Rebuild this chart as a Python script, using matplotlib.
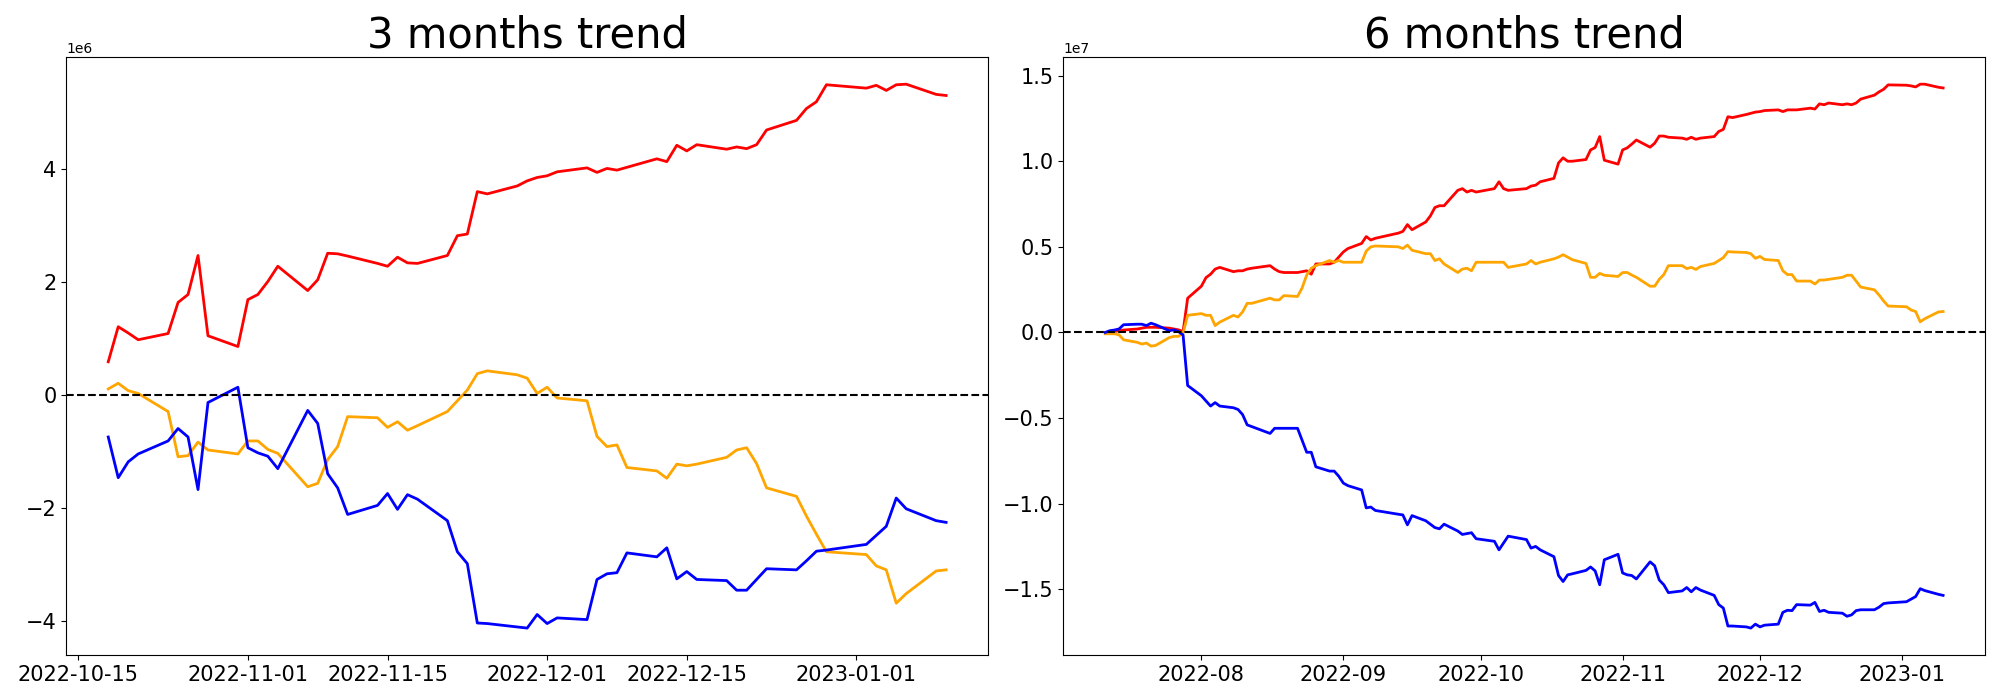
import matplotlib
matplotlib.use('Agg')
import matplotlib.pyplot as plt
import numpy as np
import pandas as pd

# market closing days inside the plotted range
holidays = ['2022-08-15', '2022-09-09', '2022-09-12', '2022-10-03', '2022-10-10', '2022-12-30']

dates_3m = pd.bdate_range('2022-10-18', '2023-01-10', freq='C', holidays=holidays)
dates_6m = pd.bdate_range('2022-07-11', '2023-01-10', freq='C', holidays=holidays)

# 3 months, values in 1e6
red_3m = [0.59, 1.21, 1.10, 0.98,
          1.09, 1.64, 1.78, 2.47, 1.05,
          0.86, 1.69, 1.78, 2.01, 2.28,
          1.85, 2.04, 2.51, 2.50, 2.46,
          2.33, 2.28, 2.44, 2.34, 2.33,
          2.47, 2.82, 2.85, 3.60, 3.56,
          3.70, 3.79, 3.85, 3.88, 3.95,
          4.02, 3.94, 4.01, 3.98, 4.03,
          4.18, 4.13, 4.42, 4.32, 4.43,
          4.35, 4.39, 4.36, 4.43, 4.69,
          4.86, 5.07, 5.19, 5.49,
          5.43, 5.48, 5.39, 5.49, 5.50,
          5.32, 5.30]
orange_3m = [0.11, 0.21, 0.08, 0.03,
             -0.29, -1.09, -1.07, -0.83, -0.97,
             -1.04, -0.81, -0.81, -0.96, -1.03,
             -1.62, -1.56, -1.14, -0.91, -0.38,
             -0.40, -0.57, -0.47, -0.62, -0.54,
             -0.29, -0.10, 0.09, 0.38, 0.43,
             0.36, 0.30, 0.03, 0.14, -0.05,
             -0.10, -0.73, -0.91, -0.88, -1.28,
             -1.34, -1.47, -1.22, -1.25, -1.22,
             -1.10, -0.97, -0.93, -1.21, -1.64,
             -1.79, -2.14, -2.46, -2.77,
             -2.82, -3.02, -3.09, -3.68, -3.51,
             -3.11, -3.09]
blue_3m = [-0.74, -1.46, -1.18, -1.04,
           -0.81, -0.59, -0.74, -1.67, -0.13,
           0.14, -0.93, -1.02, -1.08, -1.30,
           -0.27, -0.50, -1.39, -1.64, -2.11,
           -1.95, -1.74, -2.02, -1.76, -1.84,
           -2.22, -2.77, -2.98, -4.03, -4.04,
           -4.10, -4.12, -3.88, -4.04, -3.94,
           -3.97, -3.26, -3.16, -3.14, -2.79,
           -2.86, -2.70, -3.25, -3.12, -3.26,
           -3.28, -3.45, -3.45, -3.26, -3.07,
           -3.09, -2.93, -2.76, -2.74,
           -2.64, -2.48, -2.32, -1.82, -2.01,
           -2.22, -2.25]

# 6 months, values in 1e7 (one line per month)
red_6m = [0.0, 0.0, 0.005, 0.01, 0.014, 0.02, 0.025, 0.03, 0.03, 0.03, 0.025, 0.02, 0.015, 0.005, 0.20,
          0.27, 0.32, 0.34, 0.37, 0.38, 0.355, 0.36, 0.36, 0.37, 0.375, 0.39, 0.37, 0.355, 0.35, 0.35,
          0.355, 0.36, 0.34, 0.40, 0.40, 0.41, 0.44,
          0.47, 0.49, 0.52, 0.56, 0.54, 0.55, 0.58, 0.59, 0.63, 0.60, 0.645, 0.68, 0.73, 0.74, 0.74,
          0.83, 0.84, 0.82, 0.83, 0.82,
          0.84, 0.88, 0.84, 0.83, 0.84, 0.855, 0.86, 0.88, 0.90, 0.99, 1.02, 1.00, 1.00, 1.01, 1.066,
          1.08, 1.144, 1.006, 0.983,
          1.066, 1.078, 1.10, 1.124, 1.082, 1.105, 1.147, 1.147, 1.14, 1.135, 1.128, 1.14, 1.128,
          1.135, 1.144, 1.174, 1.186, 1.26, 1.255, 1.273, 1.28, 1.287,
          1.29, 1.296, 1.30, 1.29, 1.30, 1.30, 1.30, 1.31, 1.305, 1.335, 1.33, 1.34, 1.33, 1.335,
          1.33, 1.34, 1.363, 1.386, 1.405, 1.42, 1.446,
          1.444, 1.44, 1.434, 1.45, 1.45, 1.432, 1.428]
orange_6m = [-0.008, -0.008, -0.008, -0.014, -0.043, -0.058, -0.068, -0.062, -0.08, -0.076, -0.03, -0.023,
             -0.023, -0.004, 0.10,
             0.11, 0.10, 0.10, 0.04, 0.06, 0.10, 0.09, 0.12, 0.17, 0.17, 0.20, 0.19, 0.19, 0.215, 0.21,
             0.26, 0.335, 0.375, 0.39, 0.42, 0.41, 0.42,
             0.41, 0.41, 0.41, 0.475, 0.50, 0.505, 0.50, 0.49, 0.51, 0.48, 0.46, 0.46, 0.42, 0.43, 0.40,
             0.35, 0.37, 0.375, 0.36, 0.41,
             0.41, 0.41, 0.41, 0.38, 0.40, 0.42, 0.40, 0.41, 0.43, 0.44, 0.454, 0.44, 0.425, 0.403, 0.322,
             0.322, 0.345, 0.334, 0.327,
             0.35, 0.35, 0.335, 0.322, 0.27, 0.27, 0.31, 0.338, 0.39, 0.39, 0.373, 0.38, 0.368, 0.385,
             0.403, 0.42, 0.437, 0.472, 0.47, 0.467, 0.46, 0.433,
             0.444, 0.426, 0.42, 0.36, 0.338, 0.338, 0.30, 0.30, 0.283, 0.306, 0.306, 0.31, 0.322, 0.334,
             0.334, 0.30, 0.265, 0.249, 0.219, 0.184, 0.154,
             0.15, 0.131, 0.122, 0.062, 0.08, 0.12, 0.122]
blue_6m = [0.0, 0.01, 0.014, 0.02, 0.045, 0.048, 0.048, 0.04, 0.054, 0.045, 0.01, 0.015, 0.005, -0.015, -0.31,
           -0.37, -0.40, -0.43, -0.41, -0.43, -0.44, -0.45, -0.48, -0.54, -0.55, -0.59, -0.56, -0.56,
           -0.56, -0.56, -0.63, -0.70, -0.70, -0.785, -0.81, -0.81, -0.84,
           -0.88, -0.895, -0.92, -1.025, -1.02, -1.04, -1.062, -1.066, -1.124, -1.07, -1.10, -1.12,
           -1.14, -1.147, -1.12, -1.16, -1.18, -1.175, -1.17, -1.205,
           -1.22, -1.27, -1.23, -1.19, -1.21, -1.26, -1.25, -1.27, -1.31, -1.42, -1.455, -1.416, -1.41,
           -1.39, -1.37, -1.393, -1.474, -1.328, -1.296,
           -1.405, -1.416, -1.42, -1.44, -1.34, -1.363, -1.446, -1.474, -1.52, -1.51, -1.49, -1.515,
           -1.49, -1.505, -1.536, -1.59, -1.61, -1.715, -1.715, -1.72, -1.727, -1.704,
           -1.72, -1.71, -1.704, -1.635, -1.623, -1.625, -1.59, -1.593, -1.577, -1.63, -1.623, -1.635,
           -1.64, -1.658, -1.65, -1.625, -1.62, -1.62, -1.605, -1.584, -1.58,
           -1.573, -1.558, -1.543, -1.497, -1.508, -1.53, -1.536]

titles = ['3 months trend', '6 months trend']

fig, axes = plt.subplots(1, 2, figsize=(20, 7))

panels = [
    (dates_3m, red_3m, orange_3m, blue_3m, 1e6),
    (dates_6m, red_6m, orange_6m, blue_6m, 1e7),
]

for ax, (dates, red, orange, blue, scale), title in zip(axes, panels, titles):
    ax.plot(dates, np.array(red) * scale, color='red', linewidth=2)
    ax.plot(dates, np.array(orange) * scale, color='orange', linewidth=2)
    ax.plot(dates, np.array(blue) * scale, color='blue', linewidth=2)
    ax.axhline(0, color='black', linestyle='--')
    ax.set_title(title, fontsize=30)
    ax.tick_params(labelsize=15)

plt.tight_layout()
plt.savefig('out.png', dpi=100)
